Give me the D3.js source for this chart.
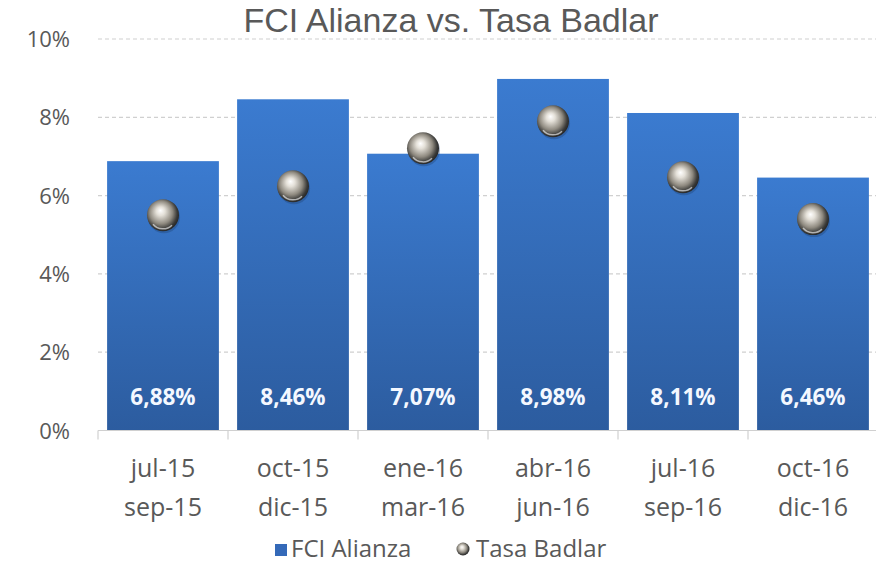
<!DOCTYPE html>
<html>
<head>
<meta charset="utf-8">
<script src="https://cdn.jsdelivr.net/npm/d3@7"></script>
<title>FCI Alianza vs. Tasa Badlar</title>
<style>
  body { margin: 0; background: #fff; }
  text { font-family: "Open Sans", "Noto Sans", sans-serif; }
</style>
</head>
<body>
<svg width="876" height="563" id="mainsvg"></svg>
<script>
  // datos
  const periodos = [["jul-15", "sep-15"], ["oct-15", "dic-15"], ["ene-16", "mar-16"],
                    ["abr-16", "jun-16"], ["jul-16", "sep-16"], ["oct-16", "dic-16"]];
  const fciAlianza = [6.88, 8.46, 7.07, 8.98, 8.11, 6.46];
  const tasaBadlar = [5.50, 6.24, 7.21, 7.90, 6.47, 5.40];
  const yTicks = [0, 2, 4, 6, 8, 10];

  let svg = d3.select("#mainsvg");
  const textCol = "#595959";

  let x = d3.scaleBand().domain(d3.range(periodos.length))
    .range([98, 878]).paddingInner(0.14).paddingOuter(0.07);
  let y = d3.scaleLinear().domain([0, 10]).range([430.5, 39]);

  let defs = svg.append("defs");
  let bg = defs.append("linearGradient").attr("id", "barGrad")
    .attr("x1", 0).attr("y1", 0).attr("x2", 0).attr("y2", 1);
  bg.append("stop").attr("offset", "0%").attr("stop-color", "#3b7bd0");
  bg.append("stop").attr("offset", "100%").attr("stop-color", "#2c5c9f");

  let sg = defs.append("radialGradient").attr("id", "ballGrad")
    .attr("cx", "45%").attr("cy", "45%").attr("r", "55%")
    .attr("fx", "42%").attr("fy", "35%");
  sg.append("stop").attr("offset", "0%").attr("stop-color", "#ffffff");
  sg.append("stop").attr("offset", "25%").attr("stop-color", "#e4e0d8");
  sg.append("stop").attr("offset", "65%").attr("stop-color", "#8f8a80");
  sg.append("stop").attr("offset", "90%").attr("stop-color", "#3a3a38");
  sg.append("stop").attr("offset", "100%").attr("stop-color", "#2a2a2a");

  // titulo
  svg.append("text").attr("x", 451).attr("y", 32)
    .attr("text-anchor", "middle").attr("font-size", 34)
    .style("font-family", "'Liberation Sans', Arial, sans-serif")
    .attr("fill", textCol).text("FCI Alianza vs. Tasa Badlar");

  // grilla
  svg.append("g").selectAll("line").data(yTicks.filter(d => d > 0)).join("line")
    .attr("x1", 98).attr("x2", 878)
    .attr("y1", d => y(d)).attr("y2", d => y(d))
    .attr("stroke", "#d0d0d0").attr("stroke-width", 1.2)
    .attr("stroke-dasharray", "4,3");

  // eje y
  svg.append("g").selectAll("text").data(yTicks).join("text")
    .attr("x", 70).attr("y", d => y(d) + 8)
    .attr("text-anchor", "end").attr("font-size", 22)
    .attr("fill", textCol).text(d => d + "%");

  // barras
  svg.append("g").selectAll("rect").data(fciAlianza).join("rect")
    .attr("x", (d, i) => x(i)).attr("width", x.bandwidth())
    .attr("y", d => y(d)).attr("height", d => y(0) - y(d))
    .attr("fill", "url(#barGrad)");

  svg.append("g").selectAll("text").data(fciAlianza).join("text")
    .attr("x", (d, i) => x(i) + x.bandwidth() / 2).attr("y", 405)
    .attr("text-anchor", "middle").attr("font-size", 22.5).attr("font-weight", "bold")
    .attr("fill", "#f4f8ff")
    .text(d => d.toFixed(2).replace(".", ",") + "%");

  // eje x
  svg.append("line").attr("x1", 98).attr("x2", 878)
    .attr("y1", y(0)).attr("y2", y(0)).attr("stroke", "#d0d0d0").attr("stroke-width", 1.2);
  svg.append("g").selectAll("line").data(d3.range(periodos.length + 1)).join("line")
    .attr("x1", i => 98 + i * x.step()).attr("x2", i => 98 + i * x.step())
    .attr("y1", y(0)).attr("y2", y(0) + 9)
    .attr("stroke", "#d0d0d0").attr("stroke-width", 1.2);

  let cat = svg.append("g").selectAll("text").data(periodos).join("text")
    .attr("text-anchor", "middle").attr("font-size", 25).attr("fill", textCol);
  cat.append("tspan").attr("x", (d, i) => x(i) + x.bandwidth() / 2).attr("y", 477).text(d => d[0]);
  cat.append("tspan").attr("x", (d, i) => x(i) + x.bandwidth() / 2).attr("y", 516).text(d => d[1]);

  // tasa badlar
  let balls = svg.append("g").selectAll("g").data(tasaBadlar).join("g")
    .attr("transform", (d, i) => `translate(${x(i) + x.bandwidth() / 2},${y(d)})`);
  balls.append("circle").attr("r", 16).attr("cx", 1).attr("cy", 2)
    .attr("fill", "#1e3f70").attr("opacity", 0.35);
  balls.append("circle").attr("r", 16).attr("fill", "url(#ballGrad)");
  balls.append("path").attr("d", "M-10,9 A13,13 0 0 0 9,10")
    .attr("fill", "none").attr("stroke", "#ffffff").attr("stroke-opacity", 0.6).attr("stroke-width", 1.5);

  // leyenda
  let leg = svg.append("g");
  leg.append("rect").attr("x", 275).attr("y", 544).attr("width", 12).attr("height", 12).attr("fill", "#3469b8");
  leg.append("text").attr("x", 291).attr("y", 557).attr("font-size", 24).attr("fill", textCol).text("FCI Alianza");
  leg.append("circle").attr("cx", 463).attr("cy", 549).attr("r", 6.5).attr("fill", "url(#ballGrad)");
  leg.append("text").attr("x", 476).attr("y", 557).attr("font-size", 24).attr("fill", textCol).text("Tasa Badlar");
</script>
</body>
</html>
